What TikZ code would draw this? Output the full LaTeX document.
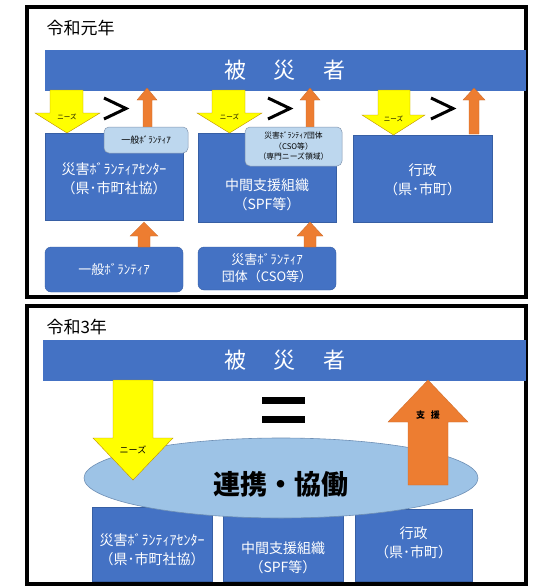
\documentclass[tikz,border=0pt]{standalone}
\usepackage{fontspec}
\newfontfamily\jp{Noto Sans CJK JP}
\usetikzlibrary{shapes.geometric}
\definecolor{barblue}{HTML}{4472C4}
\definecolor{barline}{HTML}{2F528F}
\definecolor{yel}{HTML}{FFFF00}
\definecolor{yelline}{HTML}{BF9000}
\definecolor{org}{HTML}{ED7D31}
\definecolor{calfill}{HTML}{BDD7EE}
\definecolor{calline}{HTML}{8497B0}
\definecolor{ellfill}{HTML}{9DC3E6}
\definecolor{ellline}{HTML}{6E8FB5}
\begin{document}
\begin{tikzpicture}[x=1pt,y=-1pt,font=\jp,
  frame/.style={draw=black,line width=4pt},
  bar/.style={fill=barblue,draw=barblue,inner sep=0pt},
  bartext/.style={text=white,font=\jp\fontsize{22}{22}\selectfont},
  bluebox/.style={fill=barblue,draw=barline!60!barblue,line width=0.4pt,inner sep=0pt},
  rbox/.style={bluebox,rounded corners=6pt},
  boxtext/.style={text=white,align=center,font=\jp\fontsize{14}{19}\selectfont},
  callout/.style={fill=calfill,draw=calline,line width=0.5pt,rounded corners=5pt,inner sep=0pt,align=center},
  needs/.style={fill=yel,draw=yelline,line width=0.4pt},
  support/.style={fill=org,draw=org!85!black,line width=0.3pt},
  gt/.style={draw=black,line width=3pt,miter limit=10},
  small/.style={font=\jp\fontsize{6.5}{7}\selectfont,text=black}
]
\useasboundingbox (0,0) rectangle (538,587);
\fill[white] (0,0) rectangle (538,587);

% ================= Top panel =================
\draw[frame] (27,7) rectangle (526,297);
\node[anchor=west,font=\jp\fontsize{17}{17}\selectfont] (t1) at (43,28) {令和元年};

\node[bar,minimum width=480pt,minimum height=40pt] (bar1) at (285,70) {};
\node[bartext] (b1a) at (235,70) {被};
\node[bartext] (b1b) at (284,70) {災};
\node[bartext] (b1c) at (334,70) {者};

% blue boxes
\node[bluebox,minimum width=138pt,minimum height=87pt] (a1) at (114,176.5) {};
\node[bluebox,minimum width=138pt,minimum height=89pt] (a2) at (267,177.5) {};
\node[bluebox,minimum width=139pt,minimum height=87pt] (a3) at (422.5,178.5) {};
\node[boxtext] (a1t) at (114,179) {災害ﾎﾞﾗﾝﾃｨｱｾﾝﾀｰ\\（県･市町社協）};
\node[boxtext] (a2t) at (267,195) {中間支援組織\\（SPF等）};
\node[boxtext] (a3t) at (422.5,180) {行政\\（県･市町）};

\node[rbox,minimum width=138pt,minimum height=45pt] (c1) at (114,269.5) {};
\node[rbox,minimum width=138pt,minimum height=43pt] (c2) at (267,268.5) {};
\node[boxtext,font=\jp\fontsize{13}{17}\selectfont] (c1t) at (114,269.5) {一般ﾎﾞﾗﾝﾃｨｱ};
\node[boxtext,font=\jp\fontsize{13}{17}\selectfont] (c2t) at (267,268.5) {災害ﾎﾞﾗﾝﾃｨｱ\\団体（CSO等）};

% yellow needs arrows
\draw[needs] (50,90) -- (83,90) -- (83,113) -- (100,113) -- (67,133) -- (35,113) -- (50,113) -- cycle;
\node[small] (n1) at (67,117) {ニーズ};
\draw[needs] (212,90) -- (245,90) -- (245,113) -- (262,113) -- (229.5,133) -- (197,113) -- (212,113) -- cycle;
\node[small] (n2) at (229.5,117) {ニーズ};
\draw[needs] (378,90) -- (410,90) -- (410,115) -- (425,115) -- (393.5,135) -- (362,115) -- (378,115) -- cycle;
\node[small] (n3) at (393.5,119) {ニーズ};

% > signs
\draw[gt] (104,98) -- (126,108.5) -- (104,119);
\draw[gt] (268,98) -- (290,108.5) -- (268,119);
\draw[gt] (431,98) -- (453,108.5) -- (431,119);

% orange support arrows
\draw[support] (143,128) -- (143,100) -- (137,100) -- (147,88) -- (157,100) -- (152,100) -- (152,128) -- cycle;
\draw[support] (306,128) -- (306,100) -- (300,100) -- (310,88) -- (320,100) -- (314,100) -- (314,128) -- cycle;
\draw[support] (469,134) -- (469,100) -- (463,100) -- (474,88) -- (485,100) -- (479,100) -- (479,134) -- cycle;

\draw[support] (138,247) -- (138,236) -- (130,236) -- (144,222) -- (158,236) -- (150,236) -- (150,247) -- cycle;
\draw[support] (304,247) -- (304,236) -- (297,236) -- (310,222) -- (323,236) -- (316,236) -- (316,247) -- cycle;

% callouts
\node[callout,minimum width=84pt,minimum height=26pt,font=\jp\fontsize{9}{10}\selectfont] (k1) at (146,140) {一般ﾎﾞﾗﾝﾃｨｱ};
\node[callout,minimum width=97pt,minimum height=39pt,font=\jp\fontsize{7.8}{10.5}\selectfont] (k2) at (293.5,146.5) {災害ﾎﾞﾗﾝﾃｨｱ団体\\（CSO等）\\（専門ニーズ領域）};

% ================= Bottom panel =================
\draw[frame] (27,306) rectangle (526,584);
\node[anchor=west,font=\jp\fontsize{17}{17}\selectfont] (t2) at (43,327) {令和3年};

\node[bar,minimum width=482pt,minimum height=40pt] (bar2) at (284,360) {};
\node[bartext] (b2a) at (235,360) {被};
\node[bartext] (b2b) at (284,360) {災};
\node[bartext] (b2c) at (334,360) {者};

% equals sign
\fill[black] (262,397) rectangle (305,404);
\fill[black] (262,416) rectangle (305,423);

% bottom boxes
\node[bluebox,minimum width=120pt,minimum height=74pt] (d1) at (152,544) {};
\node[bluebox,minimum width=120pt,minimum height=74pt] (d2) at (283,544) {};
\node[bluebox,minimum width=117pt,minimum height=72pt] (d3) at (413.5,545) {};
\node[boxtext] (d1t) at (152,550) {災害ﾎﾞﾗﾝﾃｨｱｾﾝﾀｰ\\（県･市町社協）};
\node[boxtext] (d2t) at (283,558) {中間支援組織\\（SPF等）};
\node[boxtext] (d3t) at (413.5,543) {行政\\（県･市町）};

% ellipse
\node[ellipse,fill=ellfill,draw=ellline,line width=0.6pt,minimum width=394pt,minimum height=80pt,inner sep=0pt] (e) at (281,478) {};
\node[font=\jp\bfseries\fontsize{27}{27}\selectfont] (et) at (281,484) {連携・協働};

% big arrows
\draw[needs] (113,380) -- (153,380) -- (153,438) -- (173,438) -- (133,480) -- (93,438) -- (113,438) -- cycle;
\node[small,font=\jp\fontsize{9}{9}\selectfont] (n4) at (133,450) {ニーズ};
\draw[support] (408,485) -- (408,422) -- (388,422) -- (428,380) -- (468,422) -- (448,422) -- (448,485) -- cycle;
\node[small,font=\jp\bfseries\fontsize{9}{9}\selectfont] (s1) at (428,415) {支\hspace{6pt}援};
\end{tikzpicture}
\end{document}
